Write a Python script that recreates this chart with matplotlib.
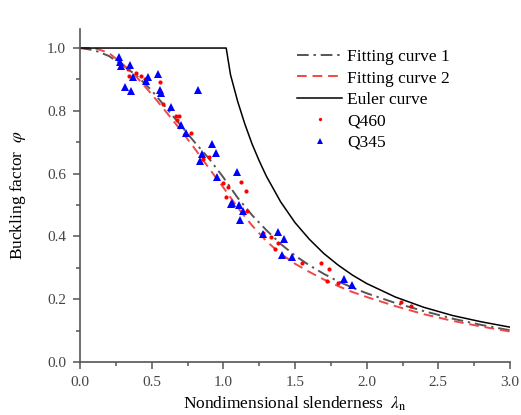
import matplotlib
matplotlib.use("Agg")
import matplotlib.pyplot as plt
from matplotlib.ticker import MultipleLocator, FormatStrFormatter

# nondimensional slenderness grid for the fitting curves
LAM_FIT = [0.0, 0.1, 0.2, 0.3, 0.4, 0.5, 0.6, 0.7, 0.8, 0.9, 1.0,
           1.1, 1.2, 1.3, 1.4, 1.5, 1.6, 1.7, 1.8, 1.9, 2.0,
           2.2, 2.4, 2.6, 2.8, 3.0]
PHI_FIT1 = [1.0, 0.993, 0.975, 0.945, 0.91, 0.865, 0.81, 0.755, 0.70, 0.648, 0.588,
            0.523, 0.468, 0.42, 0.376, 0.339, 0.308, 0.281, 0.257, 0.237, 0.219,
            0.188, 0.162, 0.138, 0.118, 0.101]
PHI_FIT2 = [1.0, 1.0, 0.985, 0.948, 0.905, 0.853, 0.797, 0.74, 0.68, 0.617, 0.556,
            0.492, 0.435, 0.385, 0.345, 0.313, 0.287, 0.263, 0.242, 0.223, 0.207,
            0.178, 0.152, 0.131, 0.113, 0.097]

LAM_EULER = [0.0, 1.02, 1.05, 1.1, 1.15, 1.2, 1.25, 1.3, 1.4, 1.5, 1.6, 1.7,
             1.8, 1.9, 2.0, 2.2, 2.4, 2.6, 2.8, 3.0]
PHI_EULER = [1.0, 1.0, 0.915, 0.830, 0.758, 0.695, 0.641, 0.592, 0.510, 0.444,
             0.391, 0.346, 0.309, 0.277, 0.250, 0.207, 0.174, 0.148, 0.128, 0.111]

# test results
Q460_LAM = [0.337, 0.344, 0.388, 0.429, 0.454, 0.559, 0.576, 0.667, 0.688, 0.677,
            0.777, 0.857, 0.897, 1.001, 1.122, 1.156, 1.036, 1.016, 1.166, 1.280,
            1.335, 1.379, 1.357, 1.552, 1.681, 1.734, 1.723, 1.798, 2.240, 2.311]
Q460_PHI = [0.932, 0.910, 0.922, 0.910, 0.901, 0.893, 0.823, 0.783, 0.782, 0.771,
            0.728, 0.646, 0.652, 0.569, 0.574, 0.545, 0.556, 0.525, 0.480, 0.412,
            0.398, 0.378, 0.359, 0.316, 0.316, 0.296, 0.258, 0.251, 0.192, 0.179]

Q345_LAM = [0.274, 0.276, 0.284, 0.349, 0.367, 0.471, 0.459, 0.547, 0.316, 0.354,
            0.559, 0.566, 0.821, 0.638, 0.705, 0.739, 0.920, 0.948, 0.851, 0.834,
            0.955, 1.094, 1.059, 1.054, 1.110, 1.135, 1.113, 1.278, 1.381, 1.421,
            1.411, 1.478, 1.839, 1.897]
Q345_PHI = [0.970, 0.957, 0.944, 0.946, 0.909, 0.909, 0.896, 0.918, 0.877, 0.864,
            0.866, 0.856, 0.865, 0.811, 0.756, 0.730, 0.694, 0.667, 0.664, 0.641,
            0.590, 0.604, 0.508, 0.503, 0.501, 0.480, 0.453, 0.409, 0.414, 0.391,
            0.342, 0.336, 0.263, 0.246]

plt.rcParams['font.family'] = ['Liberation Serif', 'DejaVu Serif']
plt.rcParams['mathtext.fontset'] = 'stix'

fig = plt.figure(figsize=(5.21, 4.15), dpi=100)
ax = fig.add_axes([80 / 521, 1 - 362 / 415, 430 / 521, 332.8 / 415])

ax.plot(LAM_FIT, PHI_FIT1, color='#555555', linestyle=(0, (6, 2.5, 1.2, 2.5)),
        linewidth=1.4, label='Fitting curve 1')
ax.plot(LAM_FIT, PHI_FIT2, color='#f04848', linestyle=(0, (5, 3)),
        linewidth=1.4, label='Fitting curve 2')
ax.plot(LAM_EULER, PHI_EULER, color='black', linewidth=1.1, label='Euler curve')
ax.plot(Q460_LAM, Q460_PHI, 'o', color='red', markersize=3, markeredgewidth=0,
        label='Q460')
ax.plot(Q345_LAM, Q345_PHI, '^', color='blue', markersize=5.5, markeredgewidth=0,
        label='Q345')

ax.set_xlim(0, 3.0)
ax.set_ylim(0, 1.06)
ax.xaxis.set_major_locator(MultipleLocator(0.5))
ax.xaxis.set_minor_locator(MultipleLocator(0.25))
ax.yaxis.set_major_locator(MultipleLocator(0.2))
ax.yaxis.set_minor_locator(MultipleLocator(0.1))
ax.xaxis.set_major_formatter(FormatStrFormatter('%.1f'))
ax.yaxis.set_major_formatter(FormatStrFormatter('%.1f'))

for side in ('top', 'right'):
    ax.spines[side].set_visible(False)
for side in ('left', 'bottom'):
    ax.spines[side].set_color('#555555')
    ax.spines[side].set_linewidth(1.2)

ax.tick_params(which='both', direction='out', color='#555555', width=1.1,
               labelsize=11, labelcolor='#444444')
ax.tick_params(which='major', length=5, pad=5)
ax.tick_params(which='minor', length=3)

ax.set_xlabel(r'Nondimensional slenderness  $\lambda_{\mathrm{n}}$', fontsize=12.5,
              labelpad=4)
ax.set_ylabel(r'Buckling factor  $\varphi$', fontsize=12.5, labelpad=14)

fig.legend(loc='upper left', bbox_to_anchor=(297 / 521, 1 - 49 / 415),
           frameon=False, fontsize=12.5, handlelength=2.6, handletextpad=0.3,
           labelspacing=0.3, borderpad=0, borderaxespad=0, markerscale=0.8)

fig.savefig('out.png', dpi=100)
